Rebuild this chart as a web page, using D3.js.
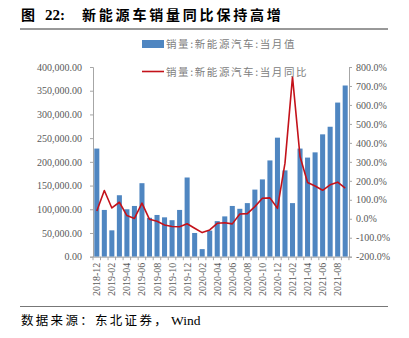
<!DOCTYPE html>
<html>
<head>
<meta charset="utf-8">
<script src="https://cdn.jsdelivr.net/npm/d3@7"></script>
<style>
  body { margin: 0; background: #fff; }
  svg { display: block; }
</style>
</head>
<body>
<svg id="chart"></svg>
<script>
// monthly data, 2018-12 .. 2021-09
const months = ["2018-12","2019-01","2019-02","2019-03","2019-04","2019-05","2019-06","2019-07","2019-08","2019-09","2019-10","2019-11",
  "2019-12","2020-01","2020-02","2020-03","2020-04","2020-05","2020-06","2020-07","2020-08","2020-09","2020-10","2020-11",
  "2020-12","2021-01","2021-02","2021-03","2021-04","2021-05","2021-06","2021-07","2021-08","2021-09"];
const sales = [228000, 98600, 55600, 129600, 100000, 107000, 155000, 82000, 88000, 83000, 77000, 98600,
  167000, 50000, 16000, 55000, 75000, 85000, 107000, 101000, 113000, 141500, 163000, 203000,
  251000, 182000, 113000, 228000, 209000, 220000, 258000, 274000, 325000, 361000];
const yoy = [41, 149, 57, 87, 17, 2, 82, -3, -13, -33, -41, -42,
  -26, -50, -73, -59, -24, -21, -27, 25, 27, 64, 108, 110,
  55, 293, 748, 328, 191, 173, 150, 179, 193, 161];
const leftTicks = [0, 50000, 100000, 150000, 200000, 250000, 300000, 350000, 400000];
const rightTicks = [-200, -100, 0, 100, 200, 300, 400, 500, 600, 700, 800];

const W = 409, H = 338;
const margin = {top: 67, right: 60, bottom: 81, left: 93};
const width = 349 - margin.left;
const height = 256.7 - margin.top;

const svg = d3.select('#chart').attr('width', W).attr('height', H);
const cjk = '"Noto Sans CJK SC", sans-serif';
const serif = '"Liberation Serif", "Times New Roman", serif';

// title + rules
const title = svg.append('text')
  .attr('y', 20)
  .attr('font-family', cjk)
  .attr('font-size', 14).attr('font-weight', 'bold')
  .attr('fill', '#000');
title.append('tspan').attr('x', 21).text('图');
title.append('tspan').attr('x', 45).attr('font-family', serif).attr('font-size', 15).text('22:');
title.append('tspan').attr('x', 82).attr('letter-spacing', 2.8).text('新能源车销量同比保持高增');

svg.append('line').attr('x1', 20).attr('x2', 388).attr('y1', 29).attr('y2', 29)
  .attr('stroke', '#333').attr('stroke-width', 1);
svg.append('line').attr('x1', 20).attr('x2', 388).attr('y1', 306.5).attr('y2', 306.5)
  .attr('stroke', '#777').attr('stroke-width', 1);

const source = svg.append('text')
  .attr('y', 325)
  .attr('font-family', cjk)
  .attr('font-size', 12.5).attr('fill', '#000');
source.append('tspan').attr('x', 21).attr('letter-spacing', 2.3).text('数据来源：东北证券，');
source.append('tspan').attr('x', 171).attr('font-family', serif).attr('font-size', 13.5).text('Wind');

const chart = svg.append('g').attr('transform', `translate(${margin.left},${margin.top})`);

const xScale = d3.scaleBand().domain(months).range([0, width]).paddingInner(0.33).paddingOuter(0.17);
const yLeft = d3.scaleLinear().domain([0, 400000]).range([height, 0]);
const yRight = d3.scaleLinear().domain([-200, 800]).range([height, 0]);

// bars
chart.selectAll('.bar')
  .data(sales)
  .join('rect')
  .attr('class', 'bar')
  .attr('x', (d, i) => xScale(months[i]))
  .attr('width', xScale.bandwidth())
  .attr('y', d => yLeft(d))
  .attr('height', d => height - yLeft(d))
  .attr('fill', '#4f86c1');

// yoy line
const line = d3.line()
  .x((d, i) => xScale(months[i]) + xScale.bandwidth() / 2)
  .y(d => yRight(d));
chart.append('path')
  .datum(yoy)
  .attr('d', line)
  .attr('fill', 'none')
  .attr('stroke', '#c4121a')
  .attr('stroke-width', 1.6)
  .attr('stroke-linejoin', 'round');

// axes
const leftAxis = d3.axisLeft(yLeft).tickValues(leftTicks)
  .tickFormat(d3.format(',.2f')).tickSize(3).tickPadding(8);
const rightAxis = d3.axisRight(yRight).tickValues(rightTicks)
  .tickFormat(d => d.toFixed(1) + '%').tickSize(3).tickPadding(4);

const step = xScale.step();
const bottomAxis = d3.axisBottom(xScale)
  .tickValues(months.filter((m, i) => i % 2 === 0))
  .tickSize(0).tickPadding(6);

const yAxisG = chart.append('g').call(leftAxis);
const yAxisR = chart.append('g').attr('transform', `translate(${width},0)`).call(rightAxis);
const xAxisG = chart.append('g').attr('transform', `translate(0,${height})`).call(bottomAxis);

[yAxisG, yAxisR, xAxisG].forEach(g => {
  g.selectAll('path.domain').attr('stroke', '#a6a6a6');
  g.selectAll('.tick line').attr('stroke', '#a6a6a6');
  g.selectAll('text').attr('font-family', serif).attr('font-size', 10).attr('fill', '#595959');
});

xAxisG.selectAll('text')
  .attr('transform', 'rotate(-90)')
  .attr('text-anchor', 'end')
  .attr('dy', '0.35em')
  .attr('x', -6).attr('y', 0);

// small ticks between every month on the x axis
chart.append('g').attr('transform', `translate(0,${height})`)
  .selectAll('line')
  .data(d3.range(months.length + 1))
  .join('line')
  .attr('x1', i => i * step)
  .attr('x2', i => i * step)
  .attr('y1', 0).attr('y2', 3.5)
  .attr('stroke', '#a6a6a6');

// legend
const legend = svg.append('g');
legend.append('rect').attr('x', 142).attr('y', 40).attr('width', 22).attr('height', 8).attr('fill', '#4f86c1');
legend.append('text').attr('x', 166).attr('y', 48)
  .attr('font-family', cjk).attr('font-size', 10.5).attr('fill', '#808080')
  .attr('letter-spacing', 1.6)
  .text('销量:新能源汽车:当月值');
legend.append('line').attr('x1', 142).attr('x2', 164).attr('y1', 71.5).attr('y2', 71.5)
  .attr('stroke', '#c4121a').attr('stroke-width', 1.6);
legend.append('text').attr('x', 166).attr('y', 75.5)
  .attr('font-family', cjk).attr('font-size', 10.5).attr('fill', '#808080')
  .attr('letter-spacing', 1.6)
  .text('销量:新能源汽车:当月同比');
</script>
</body>
</html>
